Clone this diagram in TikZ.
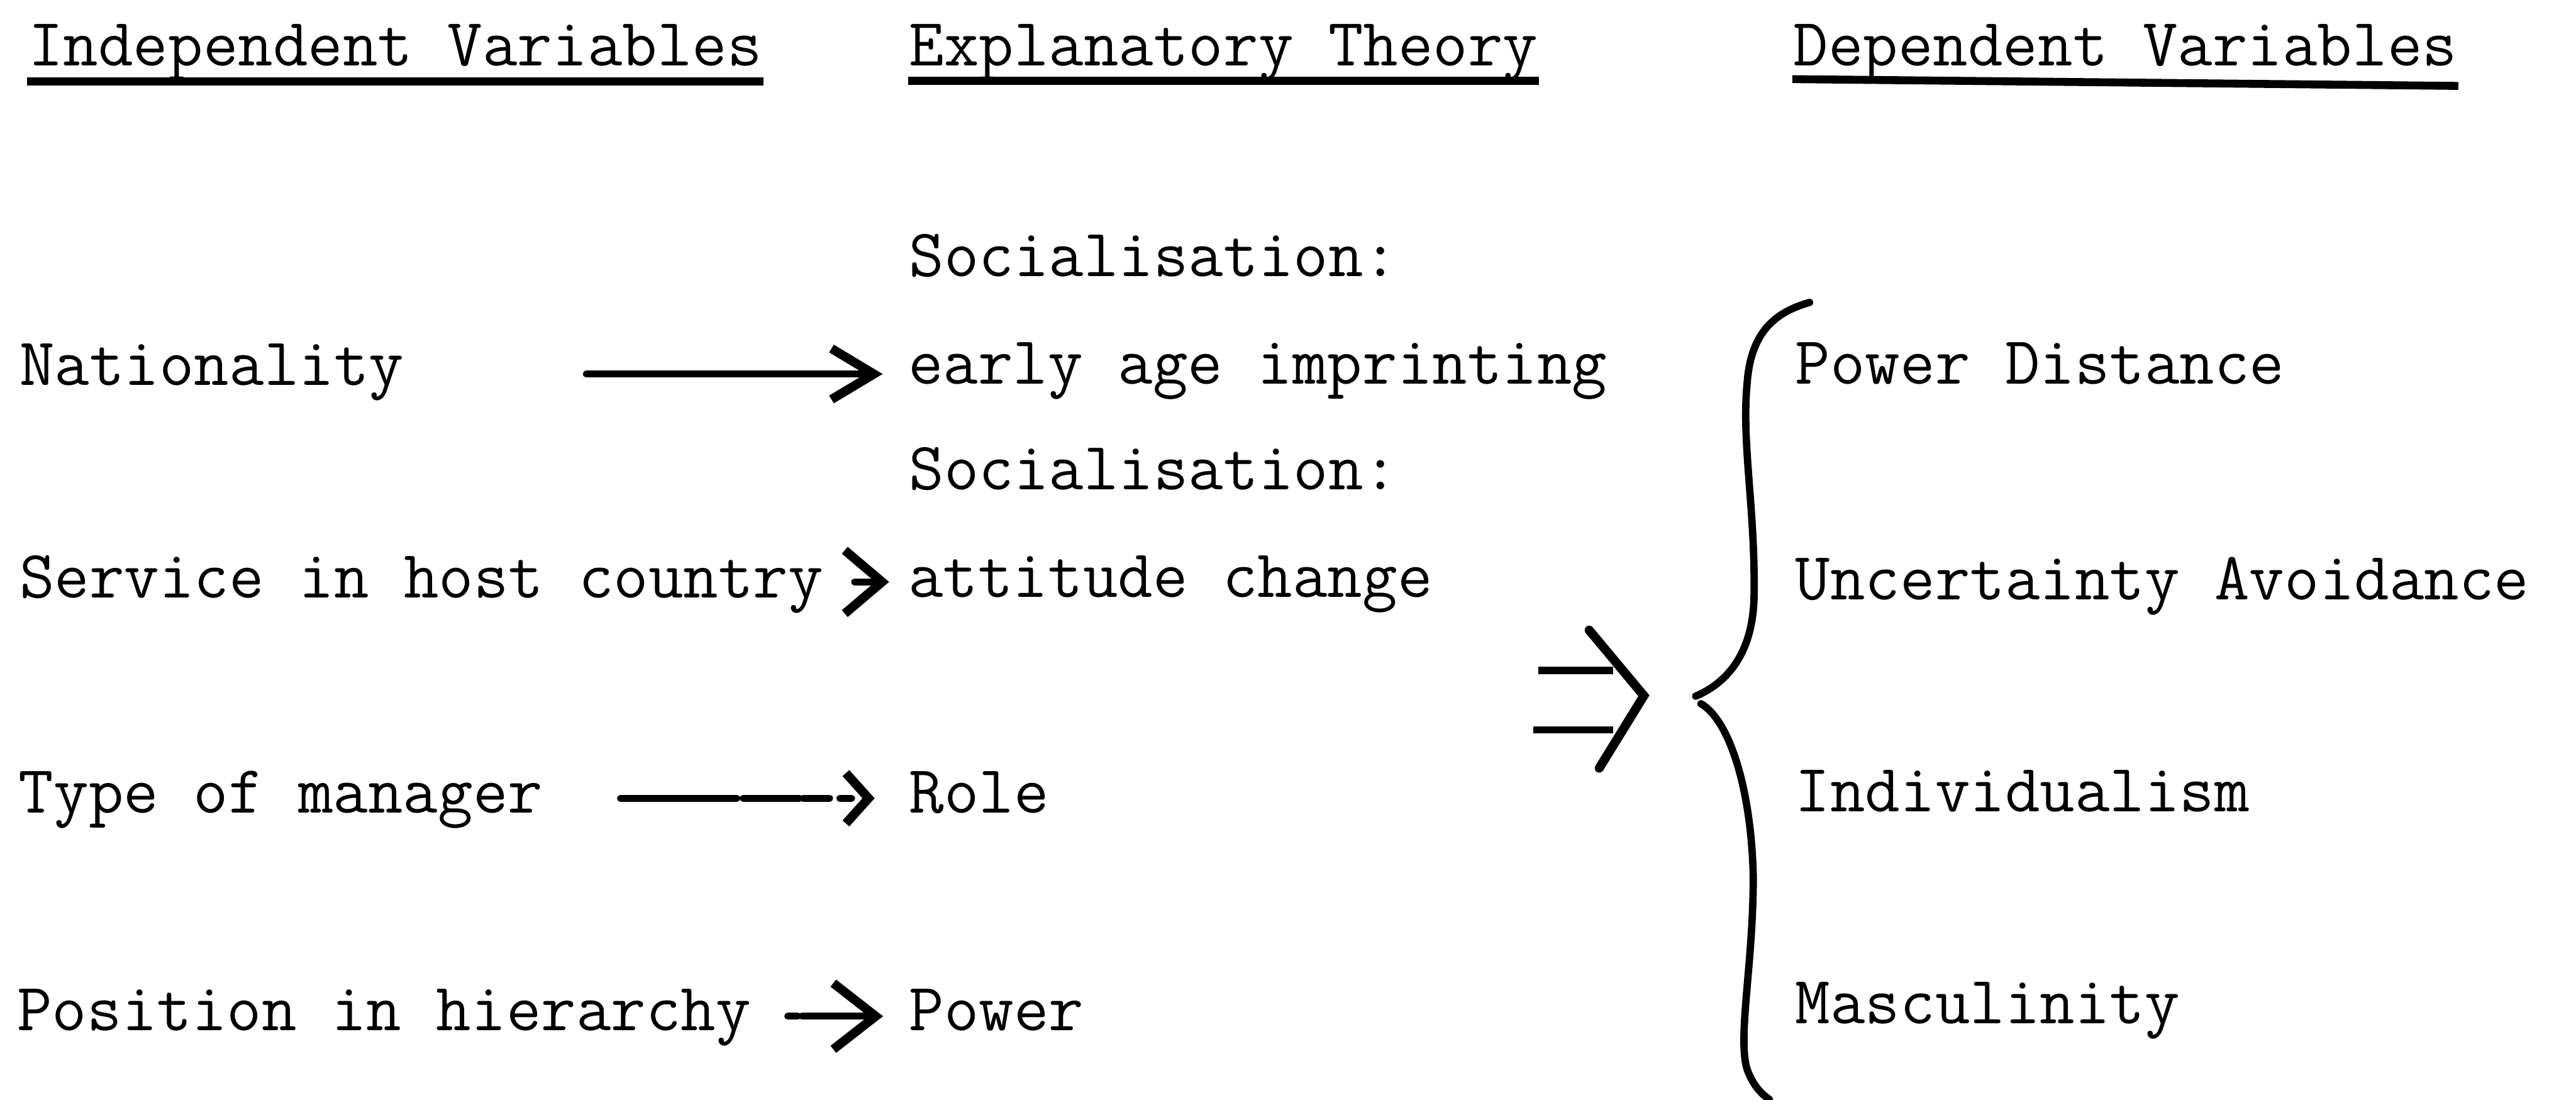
\documentclass[tikz,border=0pt]{standalone}
\usepackage{fontspec}
\usetikzlibrary{arrows.meta}
\begin{document}
\begin{tikzpicture}[x=0.25cm, y=-0.25cm,
  txt/.style={anchor=base west, inner sep=0pt, font=\fontsize{12}{14}\selectfont\ttfamily},
  uline/.style={line width=1.4pt},
  arr/.style 2 args={line width=1.2pt, line cap=round, -{Straight Barb[length=#1, width=#2, line width=1.6pt]}},
  brace/.style={line width=1.3pt, line cap=round}]
  \useasboundingbox (0,0) rectangle (64.06,27.34);

  % column heads
  \node[txt] (hind) at (0.68,1.63) {Independent Variables};
  \node[txt] (hexp) at (22.58,1.63) {Explanatory Theory};
  \node[txt] (hdep) at (44.57,1.63) {Dependent Variables};
  \draw[uline] ([yshift=-2.8pt]hind.base west) -- ([yshift=-2.8pt]hind.base east);
  \draw[uline] ([yshift=-2.7pt]hexp.base west) -- ([yshift=-2.7pt]hexp.base east);
  \draw[uline] ([yshift=-2.4pt]hdep.base west) -- ([yshift=-3.6pt]hdep.base east);

  % independent variables
  \node[txt] (nat) at (0.46,9.58) {Nationality};
  \node[txt] (serv) at (0.46,14.87) {Service in host country};
  \node[txt] (type) at (0.44,20.22) {Type of manager};
  \node[txt] (pos) at (0.40,25.62) {Position in hierarchy};

  % explanatory theory
  \node[txt] (soc1) at (22.58,6.87) {Socialisation:};
  \node[txt] (early) at (22.56,9.55) {early age imprinting};
  \node[txt] (soc2) at (22.58,12.18) {Socialisation:};
  \node[txt] (att) at (22.56,14.85) {attitude change};
  \node[txt] (role) at (22.58,20.22) {Role};
  \node[txt] (power) at (22.58,25.62) {Power};

  % dependent variables
  \node[txt] (pd) at (44.62,9.55) {Power Distance};
  \node[txt] (ua) at (44.62,14.91) {Uncertainty Avoidance};
  \node[txt] (ind) at (44.62,20.18) {Individualism};
  \node[txt] (mas) at (44.62,25.45) {Masculinity};

  % arrow ends
  \coordinate (a1) at (14.58,9.30);
  \coordinate (b1) at (21.95,9.30);
  \coordinate (a2) at (21.25,14.47);
  \coordinate (b2) at (22.11,14.47);
  \coordinate (a3) at (15.43,19.85);
  \coordinate (b3) at (21.75,19.85);
  \coordinate (a4) at (19.59,25.27);
  \coordinate (b4) at (21.96,25.27);

  \draw[arr={7.5pt}{9pt}] (a1) -- (b1);
  \draw[arr={6.6pt}{11.2pt}] (a2) -- (b2);
  \draw[arr={4pt}{8.9pt}, dash pattern=on 20.6pt off 1.1pt on 10pt off 0.6pt on 4.7pt off 1.8pt on 2.1pt off 3pt] (a3) -- (b3);
  \draw[arr={7.5pt}{11.7pt}, dash pattern=on 1.8pt off 0.7pt on 30pt] (a4) -- (b4);

  % double arrow
  \draw[line width=1.3pt] (38.25,16.67) -- (40.12,16.67);
  \draw[line width=1.3pt] (38.13,18.15) -- (40.12,18.15);
  \draw[line width=1.6pt, line cap=round] (39.52,15.67) -- (40.88,17.30) -- (39.77,19.10);

  % brace
  \draw[brace] (45.0,7.52) .. controls (44.2,7.75) and (43.55,8.2) .. (43.45,9.5)
    .. controls (43.3,11.0) and (43.65,12.6) .. (43.62,14.8)
    .. controls (43.6,16.3) and (42.9,17.0) .. (42.17,17.31);
  \draw[brace] (42.3,17.5) .. controls (43.0,17.9) and (43.55,19.6) .. (43.6,21.8)
    .. controls (43.6,24.0) and (43.2,25.8) .. (43.45,26.6)
    .. controls (43.6,27.0) and (43.8,27.2) .. (44.0,27.34);
\end{tikzpicture}
\end{document}
